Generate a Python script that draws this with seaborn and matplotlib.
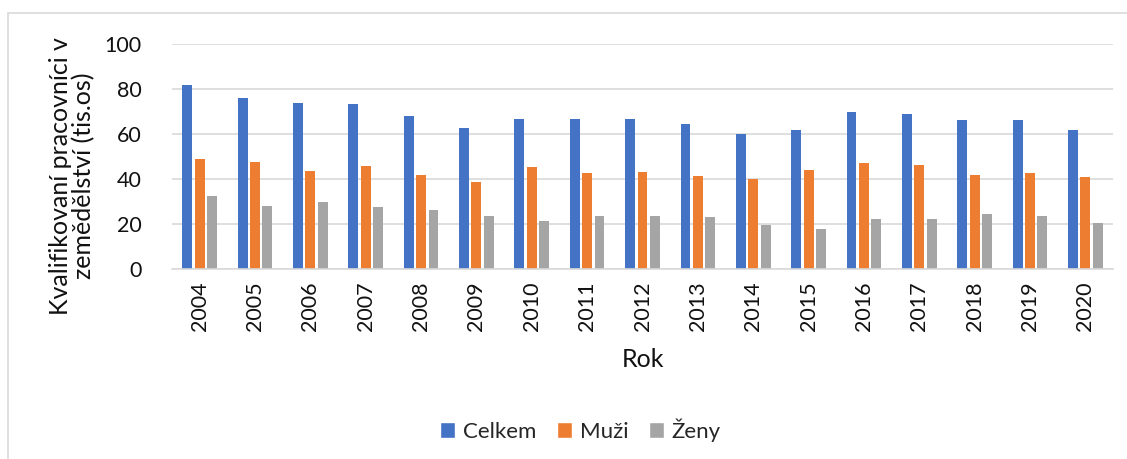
import matplotlib
matplotlib.use("Agg")
import matplotlib.pyplot as plt
from matplotlib.patches import Rectangle, Patch
import pandas as pd
import seaborn as sns

# ── Data (tis. osob) ─────────────────────────────
years = [2004, 2005, 2006, 2007, 2008, 2009, 2010, 2011, 2012,
         2013, 2014, 2015, 2016, 2017, 2018, 2019, 2020]
celkem = [81.8, 76.0, 73.7, 73.3, 68.2, 62.6, 66.6, 66.5, 66.6,
          64.4, 59.8, 62.0, 69.9, 68.7, 66.3, 66.3, 61.9]
muzi = [49.0, 47.6, 43.6, 45.8, 42.0, 38.7, 45.4, 42.7, 43.0,
        41.4, 40.1, 43.9, 47.2, 46.1, 42.0, 42.6, 40.9]
zeny = [32.5, 28.0, 30.0, 27.4, 26.1, 23.6, 21.2, 23.6, 23.7,
        23.0, 19.7, 17.8, 22.3, 22.4, 24.3, 23.6, 20.5]

series = ["Celkem", "Muži", "Ženy"]
colors = ["#4472C4", "#ED7D31", "#A5A5A5"]

df = pd.DataFrame({
    "Rok": [str(y) for y in years] * 3,
    "value": celkem + muzi + zeny,
    "serie": [s for s in series for _ in years],
})

# ── Figure ───────────────────────────────────────
sns.set_style("white")
plt.rcParams["font.family"] = ["Lato", "DejaVu Sans"]

fig = plt.figure(figsize=(11.27, 4.59), dpi=100)
ax = fig.add_axes([172 / 1127, 1 - 269 / 459, (1113 - 172) / 1127, 225 / 459])

# outer frame of the chart
fig.patches.append(Rectangle((8 / 1127, -0.05), 1.1, 1 - 13 / 459 + 0.05,
                             transform=fig.transFigure, fill=False,
                             edgecolor="#d9d9d9", linewidth=1.2))

sns.barplot(data=df, x="Rok", y="value", hue="serie", palette=colors,
            saturation=1, width=0.67, gap=0.2, linewidth=0, legend=False, ax=ax)

ax.set_ylim(0, 100)
ax.set_xlim(-0.5, len(years) - 0.5)
ax.set_yticks(range(0, 101, 20))
ax.yaxis.grid(True, color="#d9d9d9", linewidth=1.2)
ax.set_axisbelow(True)
for s in ["top", "right", "left"]:
    ax.spines[s].set_visible(False)
ax.spines["bottom"].set_color("#d9d9d9")
ax.spines["bottom"].set_linewidth(1.2)
ax.tick_params(axis="both", length=0, colors="#111111")
ax.tick_params(axis="y", pad=22, labelsize=15.5)
ax.tick_params(axis="x", pad=9, rotation=90, labelsize=15.5)

ax.set_xlabel("Rok", fontsize=18, labelpad=12, color="#111111")
ax.set_ylabel("")
# y label sits a bit lower than the axes centre, like in Excel
fig.text(72 / 1127, 1 - 176 / 459, "Kvalifikovaní pracovníci v\nzemědělství (tis.os)",
         rotation=90, ha="center", va="center", multialignment="center",
         fontsize=18, color="#111111", linespacing=1.0)

handles = [Patch(facecolor=c, label=s) for s, c in zip(series, colors)]
fig.legend(handles=handles, loc="center", bbox_to_anchor=(0.515, 1 - 430 / 459),
           ncol=3, frameon=False, fontsize=16, handlelength=0.7, handleheight=0.7,
           handletextpad=0.35, columnspacing=0.9)

plt.savefig("out.png", dpi=100)
